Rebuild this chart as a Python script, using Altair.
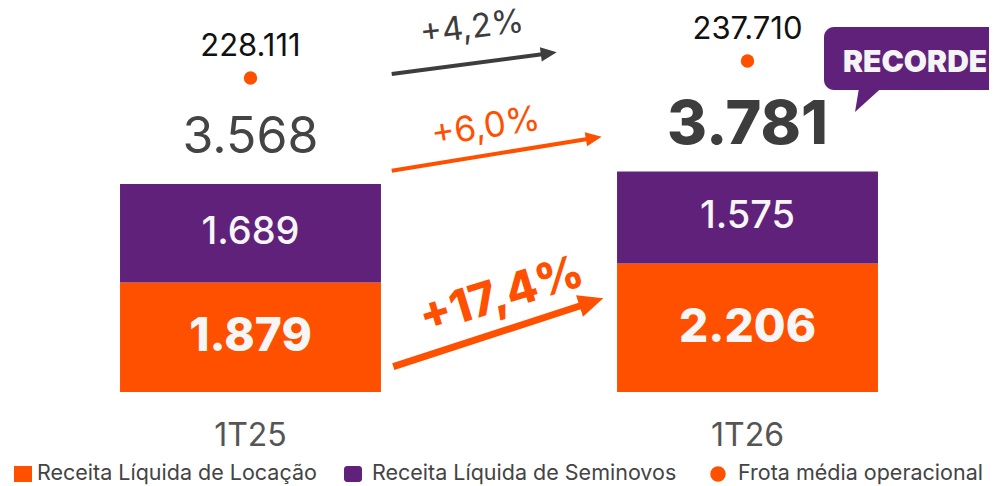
import math
import altair as alt
import pandas as pd

# ---------------- data ----------------
categories = ["1T25", "1T26"]
locacao = [1879, 2206]
seminovos = [1689, 1575]
frota = [228111, 237710]
growth = ["+4,2%", "+6,0%", "+17,4%"]
legend_labels = ["Receita Líquida de Locação", "Receita Líquida de Seminovos", "Frota média operacional"]
badge = "RECORDE!"

ORANGE = "#FF5000"
PURPLE = "#60217A"
DARK = "#3d3d3d"
FONT = "Inter"


def br(v):
    return f"{v:,}".replace(",", ".")


totais = [a + b for a, b in zip(locacao, seminovos)]

bars = pd.DataFrame({
    "cat": categories * 2,
    "serie": [legend_labels[0]] * 2 + [legend_labels[1]] * 2,
    "y0": [0, 0] + locacao,
    "y1": locacao + totais,
    "label": [br(v) for v in locacao + seminovos],
})
bars["mid"] = (bars["y0"] + bars["y1"]) / 2

tot = pd.DataFrame({"cat": categories, "total": totais, "label": [br(v) for v in totais]})
fr = pd.DataFrame({"cat": categories, "frota": frota, "label": [br(v) for v in frota]})

# ---------------- scales ----------------
xs = alt.Scale(domain=categories, range=[0, 982], paddingInner=0.475, paddingOuter=0.2254)
ys = alt.Scale(domain=[0, 4000], range=[384, 384 - 0.0583 * 4000], nice=False, zero=True)
fs = alt.Scale(domain=[220000, 240000], range=[84.4, 48.9], nice=False, zero=False)

X = alt.X("cat:N", scale=xs, axis=None)

bar_layer = alt.Chart(bars).mark_bar().encode(
    x=X,
    y=alt.Y("y0:Q", scale=ys, axis=None),
    y2="y1:Q",
    color=alt.Color("serie:N", scale=alt.Scale(domain=legend_labels[:2], range=[ORANGE, PURPLE]), legend=None),
)

loc_df = bars[bars["serie"] == legend_labels[0]]
sem_df = bars[bars["serie"] == legend_labels[1]]

loc_text = alt.Chart(loc_df).mark_text(font=FONT, fontSize=46, fontWeight=800, color="#f6f6f6", baseline="middle").encode(
    x=X, y=alt.Y("mid:Q", scale=ys, axis=None), text="label:N")
sem_text = alt.Chart(sem_df).mark_text(font=FONT, fontSize=38, fontWeight=500, color="#f6f6f6", baseline="middle").encode(
    x=X, y=alt.Y("mid:Q", scale=ys, axis=None), text="label:N")

tot1 = alt.Chart(tot[tot["cat"] == categories[0]]).mark_text(font=FONT, fontSize=50, fontWeight=400, color="#444444", baseline="middle", dy=-46).encode(
    x=X, y=alt.Y("total:Q", scale=ys, axis=None), text="label:N")
tot2 = alt.Chart(tot[tot["cat"] == categories[1]]).mark_text(font=FONT, fontSize=61, fontWeight=800, color=DARK, baseline="middle", dy=-46).encode(
    x=X, y=alt.Y("total:Q", scale=ys, axis=None), text="label:N")

fr_dot = alt.Chart(fr).mark_circle(size=180, color=ORANGE, opacity=1).encode(
    x=X, y=alt.Y("frota:Q", scale=fs, axis=None))
fr_text = alt.Chart(fr).mark_text(font=FONT, fontSize=31, fontWeight=400, color="#111111", baseline="middle", dy=-31).encode(
    x=X, y=alt.Y("frota:Q", scale=fs, axis=None), text="label:N")

cat_text = alt.Chart(tot).mark_text(font=FONT, fontSize=32, fontWeight=400, color="#555555", baseline="middle").encode(
    x=X, y=alt.value(428), text="cat:N")

ONE = alt.Data(values=[{"k": 0}])


def arrow(x0, y0, tx, ty, color, sw, head):
    dx, dy = tx - x0, ty - y0
    L = math.hypot(dx, dy)
    ux, uy = dx / L, dy / L
    ang = math.degrees(math.atan2(dy, dx)) % 360
    cx, cy = tx - ux * head / 2, ty - uy * head / 2
    lx, ly = tx - ux * head * 0.8, ty - uy * head * 0.8
    line = alt.Chart(ONE).mark_rule(color=color, strokeWidth=sw, strokeCap="butt").encode(
        x=alt.value(x0), y=alt.value(y0), x2=alt.value(lx), y2=alt.value(ly))
    tip = alt.Chart(ONE).mark_point(shape="M-1,-0.9L1,0L-1,0.9Z", size=head ** 2, filled=True,
                                     color=color, opacity=1, angle=ang, strokeWidth=0).encode(
        x=alt.value(cx), y=alt.value(cy))
    return [line, tip]


def label(txt, x, y, color, size, weight, angle):
    return alt.Chart(ONE).mark_text(text=txt, font=FONT, fontSize=size, fontWeight=weight, color=color,
                                    angle=angle, align="center", baseline="middle").encode(
        x=alt.value(x), y=alt.value(y))


ann = []
ann += arrow(383.7, 66, 548.7, 44.3, DARK, 4, 16)
ann += arrow(383.7, 162.7, 593.7, 128.7, ORANGE, 4, 16)
ann += arrow(385.3, 358.7, 595.3, 290.3, ORANGE, 7, 25)
ann.append(label(growth[0], 464, 20, DARK, 33, 400, 353))
ann.append(label(growth[1], 477.7, 119, ORANGE, 35, 400, 351))
ann.append(label(growth[2], 493.7, 288, ORANGE, 46, 800, 343))

# speech bubble
bubble = alt.Chart(ONE).mark_rect(color=PURPLE, cornerRadius=10).encode(
    x=alt.value(816), x2=alt.value(1000), y=alt.value(19), y2=alt.value(82))
tail = alt.Chart(ONE).mark_point(shape="M-0.867,-1.2L1,-1.2L-1.2,0.8Z", size=900, filled=True,
                                  color=PURPLE, opacity=1, strokeWidth=0).encode(
    x=alt.value(865), y=alt.value(92))
badge_text = alt.Chart(ONE).mark_text(text=badge, font=FONT, fontSize=30, fontWeight=900, color="#f4f4f4",
                                       align="left", baseline="middle").encode(x=alt.value(835), y=alt.value(55))

# legend
leg_y = 466
leg = [
    alt.Chart(ONE).mark_rect(color=ORANGE).encode(x=alt.value(6), x2=alt.value(24), y=alt.value(leg_y - 8), y2=alt.value(leg_y + 8)),
    alt.Chart(ONE).mark_rect(color=PURPLE, cornerRadius=3).encode(x=alt.value(336), x2=alt.value(354), y=alt.value(leg_y - 8), y2=alt.value(leg_y + 8)),
    alt.Chart(ONE).mark_circle(color=ORANGE, size=240, opacity=1).encode(x=alt.value(710), y=alt.value(leg_y)),
]
for txt, lx in zip(legend_labels, [29, 364, 730]):
    leg.append(alt.Chart(ONE).mark_text(text=txt, font=FONT, fontSize=21.5, color="#444444", align="left",
                                        baseline="middle").encode(x=alt.value(lx), y=alt.value(leg_y)))

chart = alt.layer(
    bar_layer, loc_text, sem_text, tot1, tot2, fr_dot, fr_text, cat_text,
    *ann, bubble, tail, badge_text, *leg
).resolve_scale(y="independent").properties(
    width=981, height=478, padding=0, autosize=alt.AutoSizeParams(type="none"), background="white"
).configure_view(stroke=None)

chart.save("out.html", embed_options={"renderer": "svg", "actions": False})
